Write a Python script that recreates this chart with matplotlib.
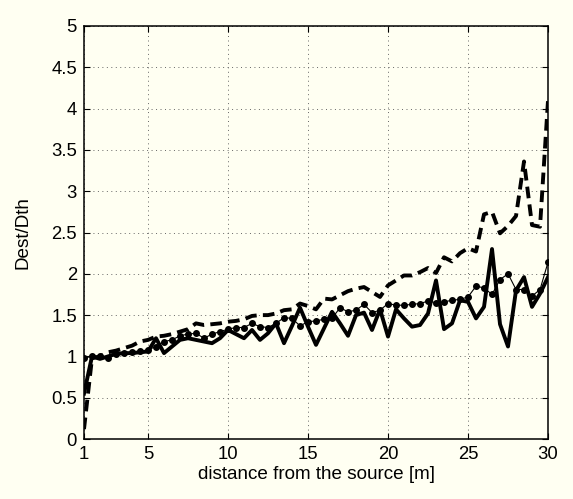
import matplotlib
matplotlib.use("Agg")
import matplotlib.pyplot as plt
import numpy as np

distance = np.arange(1.0, 30.01, 0.5)

dashed_series = [0.12, 0.98, 1.00, 1.05, 1.07, 1.10, 1.13, 1.18, 1.20, 1.24,
                 1.25, 1.27, 1.30, 1.33, 1.40, 1.38, 1.39, 1.40, 1.42, 1.43,
                 1.45, 1.49, 1.50, 1.50, 1.52, 1.56, 1.57, 1.64, 1.61, 1.57,
                 1.70, 1.69, 1.74, 1.79, 1.82, 1.84, 1.78, 1.72, 1.86, 1.92,
                 1.98, 1.98, 2.02, 2.07, 2.01, 2.20, 2.15, 2.25, 2.31, 2.27,
                 2.72, 2.75, 2.49, 2.58, 2.70, 3.36, 2.59, 2.57, 4.10]

solid_series = [0.55, 1.00, 0.97, 1.00, 1.03, 1.04, 1.04, 1.05, 1.06, 1.22,
                1.04, 1.12, 1.20, 1.22, 1.20, 1.18, 1.16, 1.22, 1.32, 1.27,
                1.22, 1.32, 1.20, 1.28, 1.40, 1.16, 1.37, 1.59, 1.36, 1.14,
                1.34, 1.54, 1.40, 1.25, 1.50, 1.53, 1.32, 1.57, 1.24, 1.57,
                1.46, 1.36, 1.38, 1.52, 1.92, 1.33, 1.40, 1.68, 1.66, 1.46,
                1.60, 2.30, 1.39, 1.12, 1.80, 1.96, 1.60, 1.76, 1.96]

dotted_series = [0.98, 1.00, 1.00, 0.98, 1.03, 1.04, 1.05, 1.06, 1.08, 1.12,
                 1.18, 1.20, 1.25, 1.27, 1.28, 1.22, 1.27, 1.30, 1.33, 1.35,
                 1.35, 1.40, 1.36, 1.35, 1.40, 1.47, 1.46, 1.37, 1.42, 1.43,
                 1.45, 1.46, 1.59, 1.54, 1.56, 1.63, 1.53, 1.56, 1.64, 1.62,
                 1.62, 1.63, 1.64, 1.67, 1.65, 1.66, 1.68, 1.69, 1.72, 1.85,
                 1.83, 1.75, 1.93, 2.00, 1.81, 1.81, 1.73, 1.81, 2.14]

x_ticks = [1, 5, 10, 15, 20, 25, 30]
y_ticks = [0, 0.5, 1, 1.5, 2, 2.5, 3, 3.5, 4, 4.5, 5]
y_tick_labels = ["0", "0.5", "1", "1.5", "2", "2.5", "3", "3.5", "4", "4.5", "5"]

bg = "#fffff2"
plt.rcParams['font.family'] = ['Liberation Sans', 'DejaVu Sans']

fig = plt.figure(figsize=(5.73, 4.99), dpi=100, facecolor=bg)
ax = fig.add_axes([0.1466, 0.1202, 0.8098, 0.8277], facecolor=bg)

ax.plot(distance, dotted_series, color="black", lw=0.8, marker="o",
        markersize=4.0, zorder=3)
ax.plot(distance, solid_series, color="black", lw=2.8, zorder=4)
ax.plot(distance, dashed_series, color="black", lw=2.8, ls=(0, (3.0, 1.6)),
        zorder=5)

ax.set_xlim(1, 30)
ax.set_ylim(0, 5)
ax.set_xticks(x_ticks)
ax.set_yticks(y_ticks)
ax.set_yticklabels(y_tick_labels)
ax.grid(True, ls=(0, (1, 3.6)), color="0.4", lw=0.7)
ax.set_axisbelow(True)
ax.tick_params(direction="in", length=4, width=0.8, top=True, right=True,
               labelsize=13.3, pad=5)
for s in ax.spines.values():
    s.set_linewidth(1.1)
    s.set_color("black")

ax.set_xlabel("distance from the source [m]", fontsize=13.6, labelpad=2)
ax.set_ylabel("Dest/Dth", fontsize=13.6, labelpad=14)

fig.savefig("out.png", dpi=100, facecolor=bg)
